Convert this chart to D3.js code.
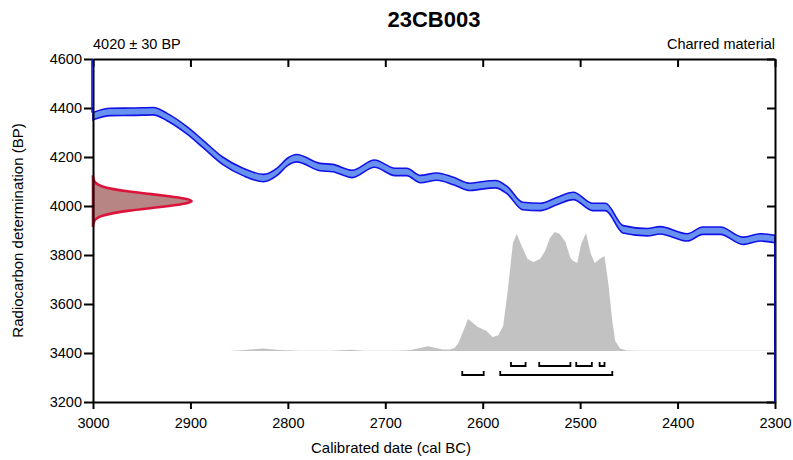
<!DOCTYPE html>
<html>
<head>
<meta charset="utf-8">
<script src="https://cdn.jsdelivr.net/npm/d3@7/dist/d3.min.js"></script>
<style>
  body { margin: 0; background: #fff; }
  svg { font-family: "Liberation Sans", Arial, sans-serif; }
  .axis path, .axis line { stroke: #000; stroke-width: 2px; }
  .axis text { font-size: 14.5px; fill: #000; }
</style>
</head>
<body>
<div id="chart"></div>
<script>
// sample info
var title = "23CB003";
var labDate = "4020 ± 30 BP";
var material = "Charred material";

// calibration curve (cal BC, BP centre)
var curveDates = [3000, 2982, 2959, 2938, 2924, 2903, 2887, 2867, 2846, 2825, 2811, 2800, 2791,
                  2767, 2754, 2734, 2711, 2690, 2678, 2664, 2647, 2630, 2613, 2603, 2587, 2575,
                  2559, 2541, 2524, 2507, 2487, 2474, 2456, 2431, 2418, 2390, 2374, 2356, 2333,
                  2315, 2300];
var curveBP = [4367, 4384, 4385, 4387, 4363, 4307, 4253, 4185, 4139, 4114, 4140, 4181, 4195,
               4159, 4155, 4131, 4173, 4139, 4139, 4110, 4120, 4102, 4078, 4083, 4089, 4065,
               4000, 3996, 4020, 4041, 3996, 3996, 3905, 3893, 3901, 3872, 3899, 3899, 3858,
               3872, 3865];
var curveErr = 15;

// radiocarbon determination (BP, relative density)
var c14BP = [4120, 4110, 4100, 4090, 4080, 4070, 4060, 4050, 4040, 4030, 4020,
             4010, 4000, 3990, 3980, 3970, 3960, 3950, 3940, 3930, 3920];
var c14Dens = [0.001, 0.004, 0.012, 0.035, 0.085, 0.18, 0.33, 0.54, 0.76, 0.93, 1,
               0.93, 0.76, 0.54, 0.33, 0.18, 0.085, 0.035, 0.012, 0.004, 0.001];

// calibrated distribution (cal BC, relative probability)
var calDates = [2860, 2844, 2826, 2808, 2788, 2757, 2736, 2721, 2690, 2675, 2656, 2641, 2634,
                2629, 2625, 2615, 2605, 2596, 2590, 2584, 2579, 2574, 2569, 2565, 2560, 2554,
                2548, 2541, 2536, 2531, 2526, 2521, 2515, 2510, 2507, 2503, 2499, 2494, 2489,
                2485, 2480, 2475, 2471, 2467, 2464, 2459, 2452, 2439, 2377, 2300];
var calProb = [0, 1.0, 2.5, 1.0, 0.3, 0.3, 1.2, 0.3, 0.3, 0.8, 4.7, 1.4, 1.5,
               3, 7.7, 32, 24, 20, 14, 15.7, 25, 63, 108, 117, 105, 92,
               89, 92, 100, 113, 119, 117, 109, 93, 90, 88, 107, 118, 97,
               88, 92, 95, 67, 30, 10, 2.5, 0.5, 0.3, 0.3, 0.2];

// highest probability ranges
var range68 = [[2571, 2556], [2542, 2510], [2504, 2488], [2480, 2475]];
var range95 = [[2621, 2599], [2582, 2467]];

var xTicks = [3000, 2900, 2800, 2700, 2600, 2500, 2400, 2300];
var yTicks = [3200, 3400, 3600, 3800, 4000, 4200, 4400, 4600];

var margin = {top: 59, right: 18, bottom: 58, left: 93},
    width = 793 - margin.left - margin.right,
    height = 460 - margin.top - margin.bottom;

var x = d3.scaleLinear().domain([3000, 2300]).range([0, width]);
var y = d3.scaleLinear().domain([3200, 4600]).range([height, 0]);

var base = y(3400) - 2;
var yProb = d3.scaleLinear().domain([0, 119]).range([base, base - 119]);
var xDens = d3.scaleLinear().domain([0, 1]).range([0, 101]);

var svg = d3.select("#chart").append("svg")
    .attr("width", 793)
    .attr("height", 460);

var g = svg.append("g")
    .attr("transform", "translate(" + margin.left + "," + margin.top + ")");

// calibrated distribution
var calData = calDates.map(function(d, i) { return {date: d, p: calProb[i]}; });
g.append("path")
    .datum(calData)
    .attr("fill", "#c2c2c2")
    .attr("d", d3.area()
        .x(function(d) { return x(d.date); })
        .y0(base)
        .y1(function(d) { return yProb(d.p); }));

// calibration curve band
var curve = curveDates.map(function(d, i) { return {date: d, bp: curveBP[i]}; });
g.append("path")
    .datum(curve)
    .attr("fill", "#6792f0")
    .attr("stroke", "#1212e6")
    .attr("stroke-width", 1.6)
    .attr("d", d3.area()
        .curve(d3.curveMonotoneX)
        .x(function(d) { return x(d.date); })
        .y0(function(d) { return y(d.bp - curveErr); })
        .y1(function(d) { return y(d.bp + curveErr); }));

// radiocarbon determination
var c14 = c14BP.map(function(d, i) { return {bp: d, p: c14Dens[i]}; });
g.append("path")
    .datum(c14)
    .attr("fill", "#b88585")
    .attr("stroke", "#dc143c")
    .attr("stroke-width", 2.6)
    .attr("d", d3.area()
        .curve(d3.curveBasis)
        .y(function(d) { return y(d.bp); })
        .x0(0)
        .x1(function(d) { return xDens(d.p); }) (c14) + "Z");

// ranges
function brackets(ranges, yy) {
    g.selectAll(null)
        .data(ranges)
        .enter().append("path")
        .attr("fill", "none")
        .attr("stroke", "#000")
        .attr("stroke-width", 1.8)
        .attr("d", function(r) {
            return "M" + x(r[0]) + "," + (yy - 4) + "V" + yy + "H" + x(r[1]) + "V" + (yy - 4);
        });
}
brackets(range68, y(3400) + 13);
brackets(range95, y(3400) + 22);

// axes
var fmt = d3.format("d");

g.append("g")
    .attr("class", "axis")
    .call(d3.axisLeft(y).tickValues(yTicks).tickFormat(fmt).tickSize(9).tickSizeOuter(0).tickPadding(2));

g.append("g")
    .attr("class", "axis")
    .attr("transform", "translate(0," + height + ")")
    .call(d3.axisBottom(x).tickValues(xTicks).tickFormat(fmt).tickSize(7).tickSizeOuter(0).tickPadding(9));

g.append("g")
    .attr("class", "axis")
    .call(d3.axisTop(x).tickValues(xTicks).tickSize(-8).tickSizeOuter(0).tickFormat(""));

g.append("g")
    .attr("class", "axis")
    .attr("transform", "translate(" + width + ",0)")
    .call(d3.axisRight(y).tickValues(yTicks).tickSize(-8).tickSizeOuter(0).tickFormat(""));

// curve runs off the edges
g.append("line")
    .attr("x1", x(3000) - 1).attr("x2", x(3000) - 1)
    .attr("y1", y(4600)).attr("y2", y(curveBP[0] + curveErr))
    .attr("stroke", "#1212e6").attr("stroke-width", 1.6);
g.append("line")
    .attr("x1", x(2300)).attr("x2", x(2300))
    .attr("y1", y(curveBP[curveBP.length - 1] - curveErr)).attr("y2", y(3200))
    .attr("stroke", "#0a0aa0").attr("stroke-width", 2);

// texts
svg.append("text")
    .attr("x", margin.left + width / 2)
    .attr("y", 27)
    .attr("text-anchor", "middle")
    .style("font-size", "22px")
    .style("font-weight", "bold")
    .text(title);

svg.append("text")
    .attr("x", margin.left)
    .attr("y", 49)
    .style("font-size", "14.5px")
    .text(labDate);

svg.append("text")
    .attr("x", margin.left + width)
    .attr("y", 49)
    .attr("text-anchor", "end")
    .style("font-size", "14.5px")
    .text(material);

svg.append("text")
    .attr("x", 391)
    .attr("y", 453)
    .attr("text-anchor", "middle")
    .style("font-size", "15px")
    .text("Calibrated date (cal BC)");

svg.append("text")
    .attr("transform", "translate(23," + (margin.top + height / 2) + ") rotate(-90)")
    .attr("text-anchor", "middle")
    .style("font-size", "15px")
    .text("Radiocarbon determination (BP)");
</script>
</body>
</html>
